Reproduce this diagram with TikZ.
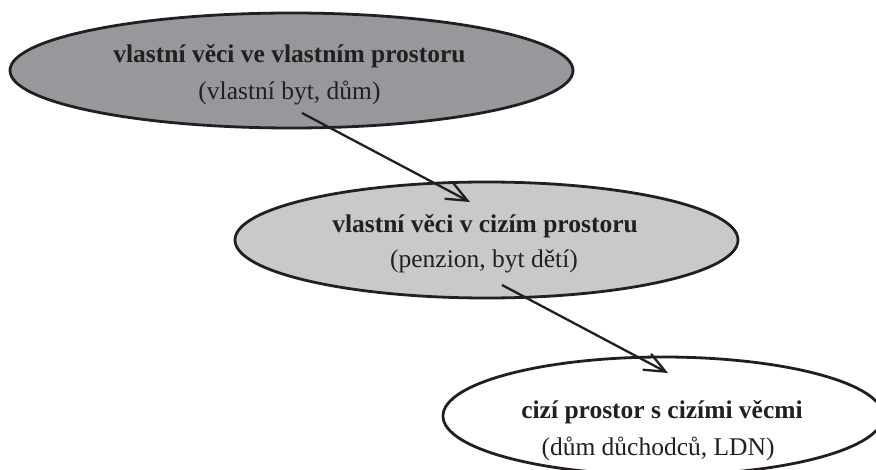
\documentclass[tikz,border=0pt]{standalone}
\usepackage{fontspec}
\setmainfont{Liberation Serif}
\usetikzlibrary{shapes.geometric,arrows.meta}
\definecolor{darkfill}{RGB}{151,152,156}
\definecolor{lightfill}{RGB}{200,201,203}
\definecolor{inkcol}{RGB}{35,31,32}
\tikzset{
  oval/.style={ellipse, draw=inkcol, line width=2.8pt, inner sep=0pt},
  titletext/.style={anchor=base, text=inkcol, inner sep=0pt, font=\fontsize{25.5}{30}\selectfont\bfseries},
  subtext/.style={anchor=base, text=inkcol, inner sep=0pt, font=\fontsize{25.5}{30}\selectfont},
  flow/.style={draw=inkcol, line width=2.3pt, -{Straight Barb[length=21pt,width=18pt,line width=2.3pt]}}
}
\begin{document}
\begin{tikzpicture}[x=1pt,y=-1pt]
\useasboundingbox (0,0) rectangle (876,470);
\node[oval, fill=darkfill, minimum width=563pt, minimum height=115pt] (e1) at (291.5,70.5) {};
\node[oval, fill=lightfill, minimum width=503pt, minimum height=116pt] (e2) at (486.5,240) {};
\node[oval, fill=white, minimum width=440pt, minimum height=118pt] (e3) at (663,416) {};
\node[titletext] (t1) at (289.5,63) {vlastní věci ve vlastním prostoru};
\node[subtext] (s1) at (289.5,100) {(vlastní byt, dům)};
\node[titletext] (t2) at (485,233) {vlastní věci v cizím prostoru};
\node[subtext] (s2) at (484,268) {(penzion, byt dětí)};
\node[titletext] (t3) at (662,418) {cizí prostor s cizími věcmi};
\node[subtext] (s3) at (658,455) {(dům důchodců, LDN)};
\coordinate (a1s) at (302,113);
\coordinate (a1e) at (470,202);
\coordinate (a2s) at (502,285);
\coordinate (a2e) at (668,373);
\draw[flow] (a1s) -- (a1e);
\draw[flow] (a2s) -- (a2e);
\end{tikzpicture}
\end{document}
